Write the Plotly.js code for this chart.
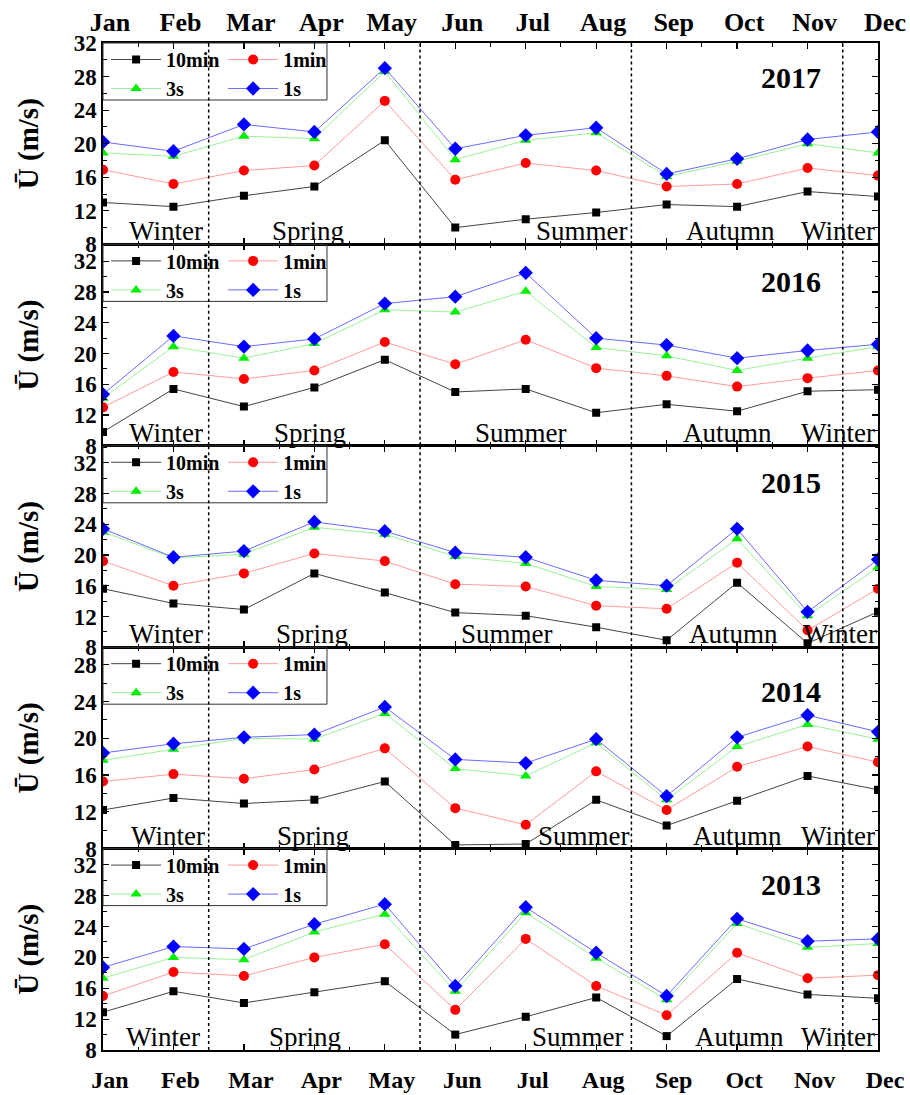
<!DOCTYPE html>
<html>
<head>
<meta charset="utf-8">
<script src="https://cdn.plot.ly/plotly-3.0.1.min.js"></script>
<style>html,body{margin:0;padding:0;background:#fff;}#chart{width:910px;height:1095px;}</style>
</head>
<body>
<div id="chart"></div>
<script>
const months = ['Jan','Feb','Mar','Apr','May','Jun','Jul','Aug','Sep','Oct','Nov','Dec'];
const years = ['2017','2016','2015','2014','2013'];
const seriesNames = ['10min','1min','3s','1s'];

const s2017_10min = [13.0, 12.5, 13.8, 14.9, 20.4, 10.0, 11.0, 11.8, 12.75, 12.5, 14.3, 13.7];
const s2017_1min  = [16.9, 15.2, 16.8, 17.4, 25.1, 15.7, 17.7, 16.8, 14.9, 15.2, 17.1, 16.2];
const s2017_3s    = [18.9, 18.5, 20.9, 20.6, 28.6, 18.1, 20.4, 21.3, 16.1, 17.9, 20.0, 18.9];
const s2017_1s    = [20.2, 19.1, 22.3, 21.4, 29.0, 19.4, 21.0, 21.9, 16.4, 18.2, 20.5, 21.4];

const s2016_10min = [9.8, 15.4, 13.1, 15.6, 19.2, 15.0, 15.4, 12.3, 13.4, 12.5, 15.1, 15.3];
const s2016_1min  = [13.0, 17.6, 16.7, 17.8, 21.5, 18.6, 21.8, 18.1, 17.1, 15.7, 16.8, 17.8];
const s2016_3s    = [14.2, 20.9, 19.4, 21.3, 25.7, 25.4, 28.1, 20.8, 19.7, 17.8, 19.4, 20.9];
const s2016_1s    = [14.7, 22.3, 20.9, 21.9, 26.5, 27.4, 30.5, 22.0, 21.1, 19.4, 20.4, 21.2];

const s2015_10min = [15.6, 13.7, 12.9, 17.6, 15.1, 12.5, 12.1, 10.6, 8.9, 16.4, 8.5, 12.6];
const s2015_1min  = [19.2, 16.0, 17.6, 20.2, 19.2, 16.2, 15.9, 13.4, 13.0, 19.0, 10.2, 15.6];
const s2015_3s    = [23.0, 19.6, 20.1, 23.6, 22.7, 19.8, 18.9, 15.9, 15.5, 22.1, 12.1, 18.4];
const s2015_1s    = [23.4, 19.7, 20.5, 24.3, 23.1, 20.3, 19.7, 16.7, 16.0, 23.4, 12.6, 19.4];

const s2014_10min = [12.2, 13.5, 12.9, 13.3, 15.3, 8.4, 8.5, 13.3, 10.5, 13.2, 15.9, 14.4];
const s2014_1min  = [15.3, 16.1, 15.6, 16.6, 18.9, 12.4, 10.6, 16.4, 12.2, 16.9, 19.1, 17.4];
const s2014_3s    = [17.6, 18.8, 20.0, 19.9, 22.7, 16.7, 15.9, 19.5, 13.3, 19.1, 21.5, 19.9];
const s2014_1s    = [18.4, 19.4, 20.1, 20.4, 23.4, 17.7, 17.3, 19.9, 13.7, 20.1, 22.5, 20.7];

const s2013_10min = [12.9, 15.6, 14.1, 15.5, 16.9, 10.0, 12.3, 14.8, 9.8, 17.2, 15.2, 14.7];
const s2013_1min  = [15.0, 18.1, 17.6, 20.0, 21.7, 13.2, 22.4, 16.3, 12.5, 20.6, 17.3, 17.7];
const s2013_3s    = [17.3, 20.0, 19.7, 23.3, 25.6, 15.6, 25.8, 19.9, 14.5, 24.4, 21.3, 21.8];
const s2013_1s    = [18.7, 21.4, 21.1, 24.3, 26.9, 16.3, 26.5, 20.6, 15.0, 25.0, 22.1, 22.4];

const seasonBreaks = [1.5, 4.5, 7.5, 10.5];
const seasonNames = ['Winter','Spring','Summer','Autumn','Winter'];

// ---- build ----
const data = {
  '2017': [s2017_10min, s2017_1min, s2017_3s, s2017_1s],
  '2016': [s2016_10min, s2016_1min, s2016_3s, s2016_1s],
  '2015': [s2015_10min, s2015_1min, s2015_3s, s2015_1s],
  '2014': [s2014_10min, s2014_1min, s2014_3s, s2014_1s],
  '2013': [s2013_10min, s2013_1min, s2013_3s, s2013_1s]
};
const idx = months.map((m, i) => i);
const FONT = '"Liberation Serif", "Times New Roman", Times, serif';

const styles = [
  {sym: 'square', mcol: '#000000', lcol: '#444444', size: 8},
  {sym: 'circle', mcol: '#ff0000', lcol: '#ff9a9a', size: 10},
  {sym: 'triangle-up', mcol: '#00ee00', lcol: '#9af09a', size: 10},
  {sym: 'diamond', mcol: '#0000ff', lcol: '#6a6aff', size: 11}
];
const yRanges = [[8, 32], [8, 34.2], [8, 34.2], [8, 29.9], [8, 34.1]];
const domains = [[0.8, 1], [0.6, 0.8], [0.4, 0.6], [0.2, 0.4], [0, 0.2]];
// season label x-centres (month index) per panel
const seasonX = [
  [0.9, 2.91, 6.8, 8.9, 10.43],
  [0.9, 2.94, 5.93, 8.87, 10.43],
  [0.9, 2.97, 5.74, 8.95, 10.46],
  [0.92, 2.98, 6.83, 9.0, 10.43],
  [0.85, 2.87, 6.74, 9.04, 10.43]
];
const yearY = [0.83, 0.815, 0.818, 0.78, 0.82];

const traces = [];
const layout = {
  width: 910, height: 1095,
  margin: {l: 103, r: 32, t: 43, b: 45},
  paper_bgcolor: '#ffffff', plot_bgcolor: '#ffffff',
  font: {family: FONT, color: '#000'},
  showlegend: true,
  shapes: [], annotations: []
};

years.forEach((yr, p) => {
  const n = p + 1;
  const xa = n === 1 ? 'x' : 'x' + n;
  const ya = n === 1 ? 'y' : 'y' + n;
  const xKey = n === 1 ? 'xaxis' : 'xaxis' + n;
  const yKey = n === 1 ? 'yaxis' : 'yaxis' + n;
  const legA = p === 0 ? 'legend' : 'legend' + (2 * p + 1);
  const legB = 'legend' + (2 * p + 2);

  data[yr].forEach((vals, s) => {
    const st = styles[s];
    traces.push({
      type: 'scatter', mode: 'lines+markers',
      x: idx, y: vals, xaxis: xa, yaxis: ya,
      name: seriesNames[s],
      legend: (s % 2 === 0) ? legA : legB,
      line: {color: st.lcol, width: 1},
      marker: {symbol: st.sym, color: st.mcol, size: st.size},
      cliponaxis: true
    });
  });

  layout[xKey] = {
    domain: [0, 1], anchor: ya, range: [0, 11],
    tickmode: 'array', tickvals: idx, ticktext: months,
    ticks: 'inside', ticklen: 6, tickwidth: 1.2, tickcolor: '#000',
    minor: {tickmode: 'array', tickvals: idx.map(i => i + 0.5), ticks: 'inside', ticklen: 3.5, tickwidth: 1, tickcolor: '#000'},
    showline: true, linecolor: '#000', linewidth: 1.6, mirror: 'allticks',
    showgrid: false, zeroline: false,
    side: n === 1 ? 'top' : 'bottom',
    showticklabels: (n === 1 || n === 5),
    tickfont: {family: FONT, size: n === 1 ? 26 : 24, weight: 'bold', color: '#000'},
    ticklabelshift: 7,
    ticklabelstandoff: n === 1 ? 0 : 8
  };
  layout[yKey] = {
    domain: domains[p], anchor: xa, range: yRanges[p],
    tickmode: 'linear', tick0: 8, dtick: 4,
    ticks: 'inside', ticklen: 6, tickwidth: 1.2, tickcolor: '#000',
    minor: {dtick: 2, ticks: 'inside', ticklen: 3.5, tickwidth: 1, tickcolor: '#000'},
    showline: true, linecolor: '#000', linewidth: 1.6, mirror: 'allticks',
    showgrid: false, zeroline: false,
    tickfont: {family: FONT, size: 23, weight: 'bold', color: '#000'},
    title: {text: '<b>Ū (m/s)</b>', font: {family: FONT, size: 29, color: '#000'}, standoff: 26}
  };

  const top = domains[p][1];
  layout[legA] = {
    x: 0.004, y: top + 0.003, xanchor: 'left', yanchor: 'top', xref: 'paper', yref: 'paper',
    orientation: 'v', bgcolor: 'rgba(0,0,0,0)', borderwidth: 0,
    font: {family: FONT, size: 20, weight: 'bold', color: '#000'},
    itemwidth: 50, tracegroupgap: 0
  };
  layout[legB] = {
    x: 0.155, y: top + 0.003, xanchor: 'left', yanchor: 'top', xref: 'paper', yref: 'paper',
    orientation: 'v', bgcolor: 'rgba(0,0,0,0)', borderwidth: 0,
    font: {family: FONT, size: 20, weight: 'bold', color: '#000'},
    itemwidth: 50, tracegroupgap: 0
  };
  layout.shapes.push({
    type: 'rect', xref: 'paper', yref: 'paper', x0: 0, x1: 0.289, y0: top - 0.0566, y1: top,
    line: {color: '#333', width: 1}, fillcolor: 'rgba(0,0,0,0)', layer: 'above'
  });
  seasonBreaks.forEach(b => {
    layout.shapes.push({
      type: 'line', xref: xa, yref: ya + ' domain', x0: b, x1: b, y0: 0, y1: 1,
      line: {color: '#000', width: 1.5, dash: 'dot'}, layer: 'above'
    });
  });
  seasonNames.forEach((sn, k) => {
    layout.annotations.push({
      text: sn, xref: xa, yref: ya + ' domain', x: seasonX[p][k], y: 0,
      xanchor: 'center', yanchor: 'bottom', yshift: -4, showarrow: false,
      font: {family: FONT, size: 27, color: '#000'}
    });
  });
  layout.annotations.push({
    text: '<b>' + yr + '</b>', xref: xa, yref: ya + ' domain', x: 9.77, y: yearY[p],
    xanchor: 'center', yanchor: 'middle', showarrow: false,
    font: {family: FONT, size: 30, color: '#000'}
  });
});

Plotly.newPlot('chart', traces, layout, {displayModeBar: false, staticPlot: true});
</script>
</body>
</html>
